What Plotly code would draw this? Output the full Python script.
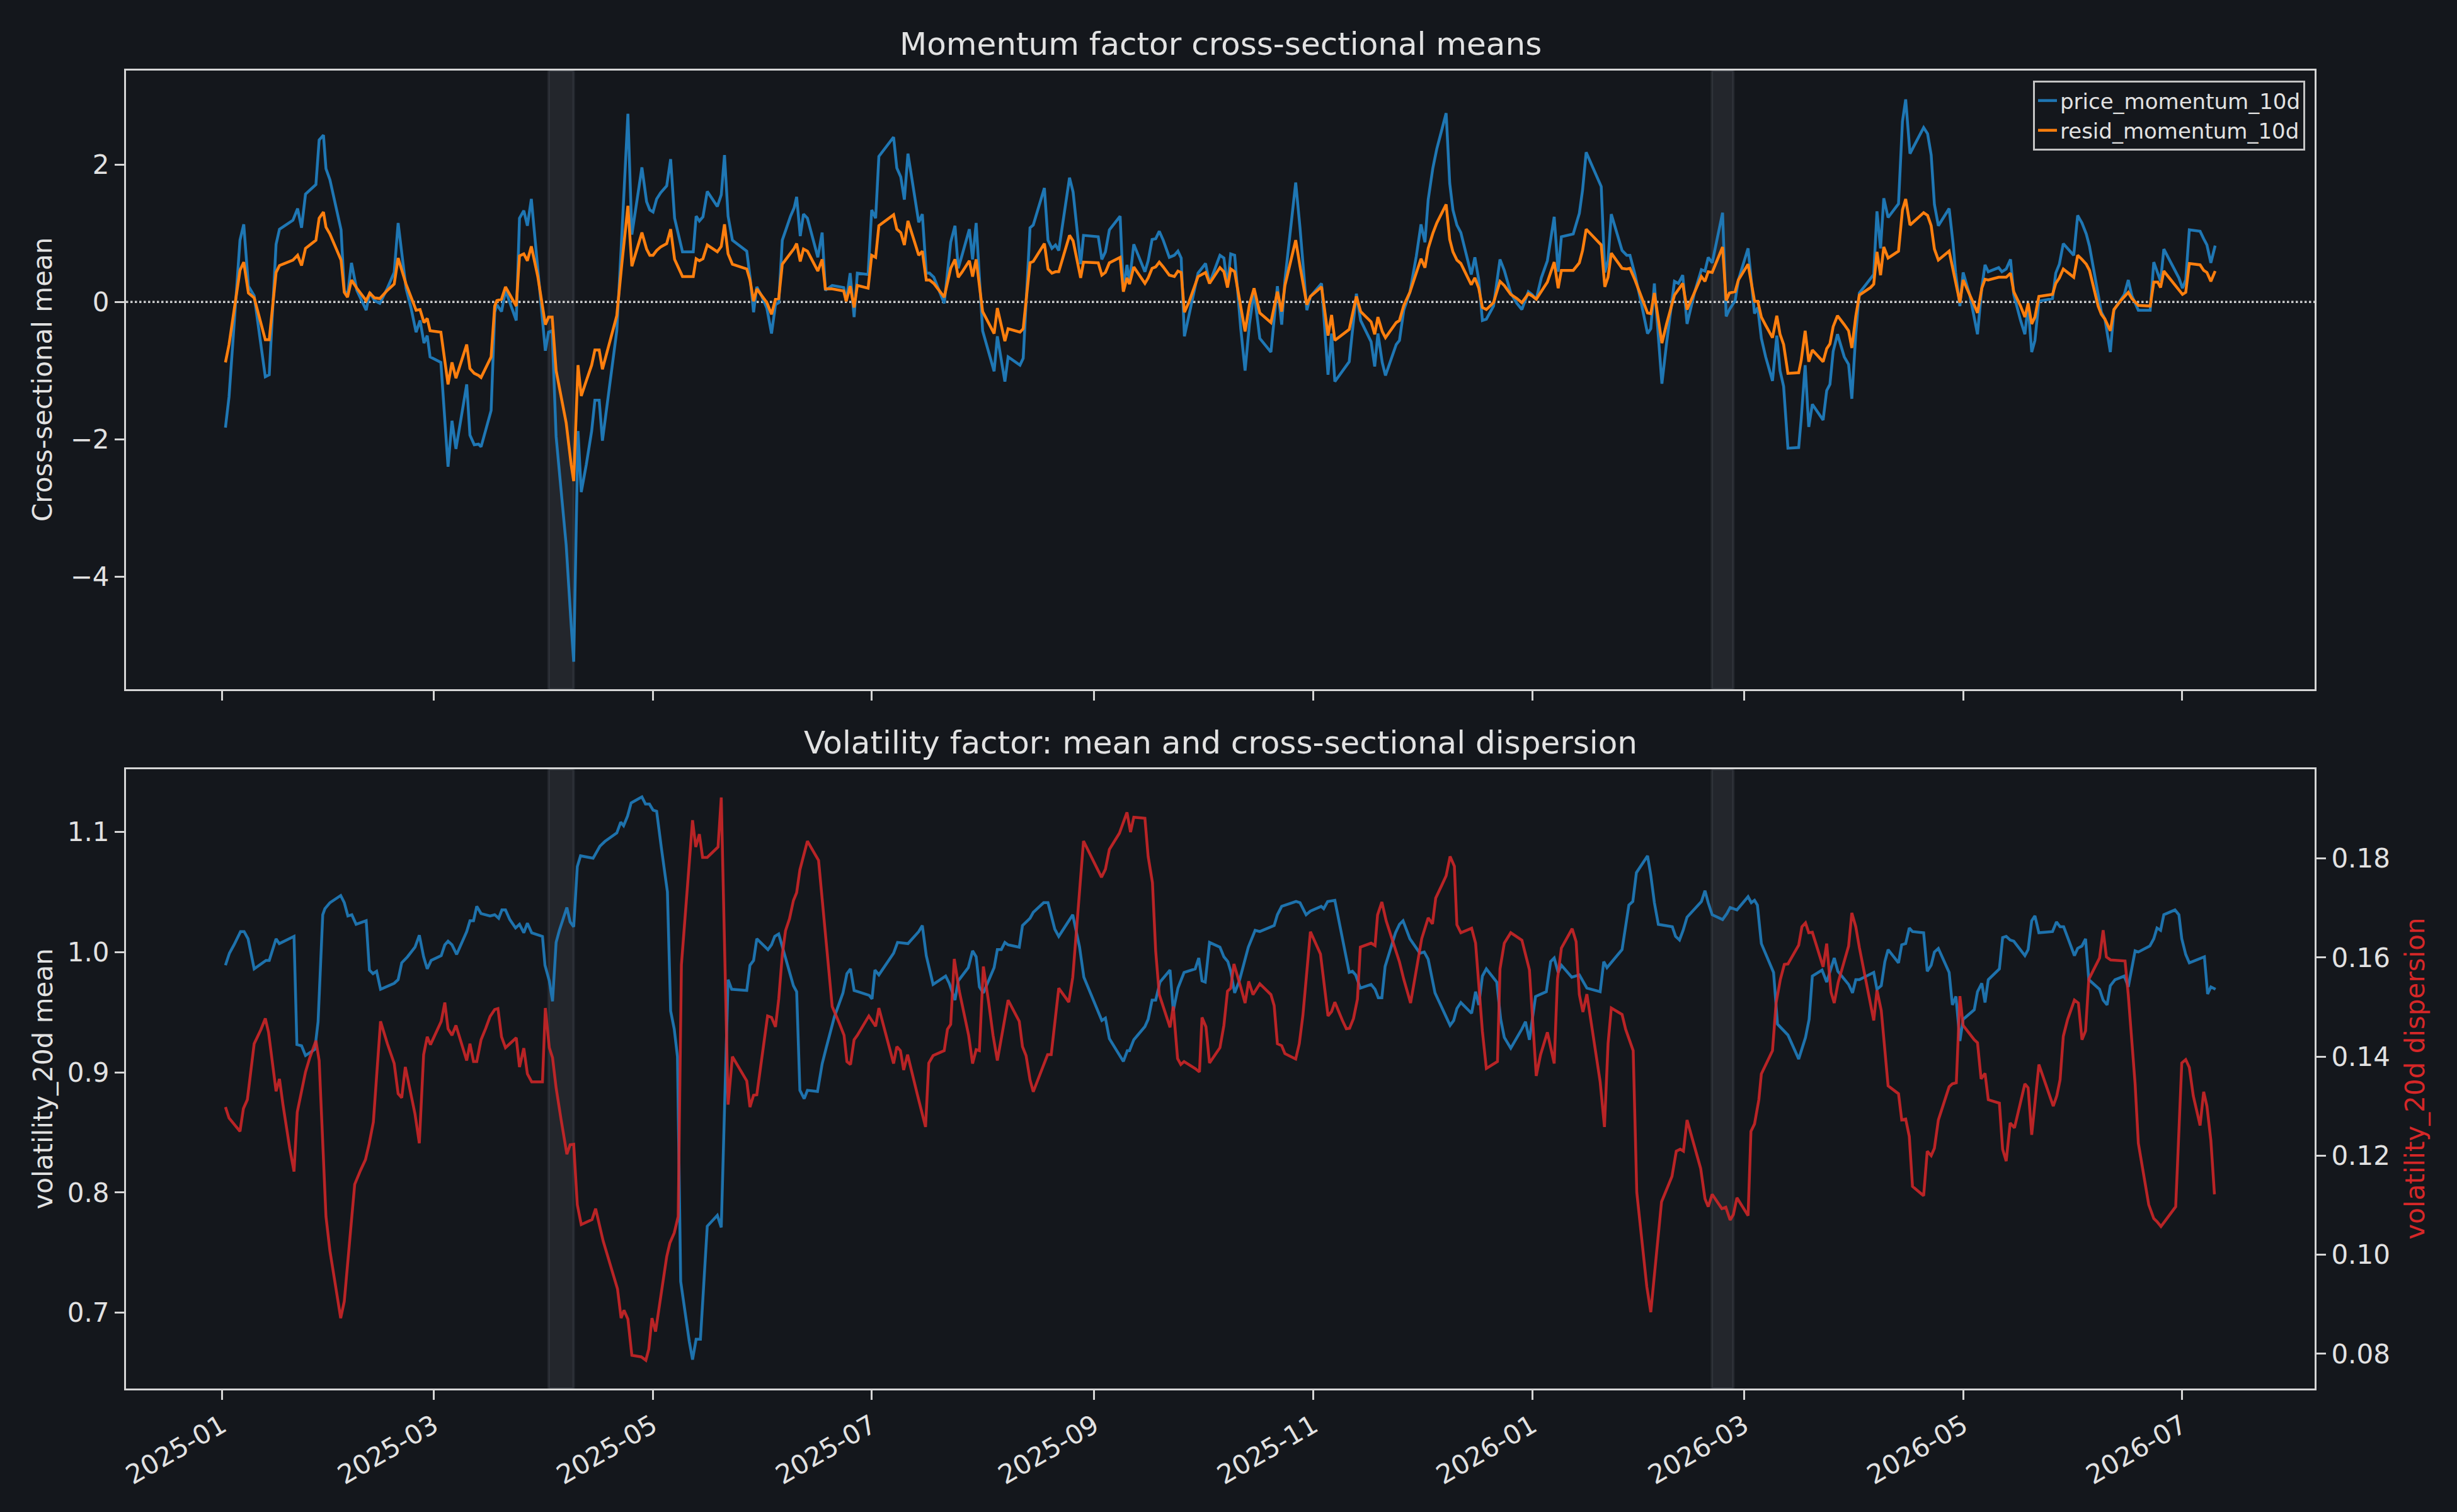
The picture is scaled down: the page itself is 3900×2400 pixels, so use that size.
import pandas as pd
import plotly.graph_objects as go

BASE = pd.Timestamp("2025-01-01")

# ---------------- Momentum panel (day offsets from 2025-01-01) ----------------
mom_days = [
    1.0, 2.0, 5.05, 6.1, 7.4, 9.0, 12.1, 13.2, 15.1, 16.05,
    19.8, 21.1, 22.2, 23.3, 26.2, 27.1, 28.3, 29.0, 30.1, 33.2,
    34.1, 35.0, 36.1, 37.6, 40.2, 41.2, 42.5, 44.0, 46.1, 48.0,
    49.1, 51.3, 52.7, 54.1, 55.2, 56.3, 57.2, 58.0, 61.0, 63.0,
    64.1, 65.2, 68.2, 69.1, 70.3, 71.5, 72.2, 75.0, 76.0, 76.6,
    77.9, 79.0, 82.0, 82.9, 84.1, 85.1, 86.2, 88.0, 90.1, 91.0,
    92.0, 93.1, 94.5, 95.9, 97.3, 98.0, 99.2, 100.1, 101.5, 103.0,
    103.9, 105.1, 106.0, 108.1, 110.0, 111.4, 113.1, 114.2, 115.6, 117.0,
    118.3, 119.2, 120.1, 121.1, 122.2, 123.9, 125.0, 126.1, 128.3, 131.3,
    132.1, 133.0, 134.0, 135.2, 138.0, 139.1, 140.0, 141.0, 142.2, 146.2,
    147.1, 148.1, 149.0, 150.4, 151.8, 153.1, 154.2, 155.1, 156.1, 158.4,
    159.4, 160.1, 161.1, 162.0, 163.1, 165.0, 166.0, 167.2, 168.1, 170.0,
    173.2, 173.9, 175.0, 176.1, 177.0, 180.0, 181.0, 182.1, 183.0, 187.1,
    188.0, 189.1, 190.1, 191.1, 192.7, 194.1, 195.1, 196.2, 197.1, 198.3,
    201.2, 203.0, 204.2, 205.1, 206.1, 208.2, 209.1, 210.1, 211.9, 213.4,
    215.1, 216.0, 218.1, 219.0, 222.3, 223.2, 225.1, 226.0, 229.1, 230.1,
    231.2, 232.2, 233.1, 236.1, 237.1, 239.2, 240.0, 244.1, 245.1, 246.1,
    247.2, 250.2, 251.1, 252.1, 252.8, 254.0, 257.1, 258.0, 259.1, 260.1,
    261.1, 262.2, 263.9, 265.3, 266.3, 267.2, 268.1, 269.3, 271.9, 274.0,
    275.1, 278.0, 279.1, 280.1, 281.0, 282.1, 283.8, 285.0, 286.2, 287.5,
    289.1, 292.2, 294.0, 295.2, 296.1, 299.1, 300.3, 302.2, 303.2, 306.3,
    308.1, 309.1, 310.0, 314.0, 316.0, 317.2, 320.1, 321.1, 322.0, 323.2,
    324.1, 327.1, 328.0, 329.2, 330.9, 332.7, 334.0, 335.1, 336.0, 337.3,
    338.4, 341.0, 342.0, 342.9, 344.0, 345.1, 346.8, 348.0, 349.0, 350.1,
    351.1, 352.2, 354.2, 356.0, 357.2, 359.0, 360.7, 362.1, 363.9, 364.9,
    366.1, 367.5, 369.2, 371.1, 372.2, 373.1, 376.4, 378.1, 379.0, 380.0,
    384.2, 385.2, 386.1, 387.0, 390.0, 391.3, 392.2, 393.6, 395.2, 397.1,
    398.0, 399.0, 401.1, 402.4, 404.6, 405.7, 406.9, 408.1, 410.2, 412.1,
    413.1, 414.0, 415.1, 418.0, 419.0, 419.9, 421.5, 422.4, 425.1, 426.9,
    427.8, 428.8, 430.0, 431.9, 433.1, 434.0, 435.0, 436.2, 439.2, 439.9,
    441.0, 442.0, 443.0, 446.0, 447.0, 447.9, 448.8, 450.0, 451.9, 453.1,
    454.0, 455.1, 456.1, 459.2, 460.1, 461.0, 462.0, 462.9, 464.1, 467.0,
    468.1, 469.0, 470.2, 474.0, 475.1, 476.1, 477.0, 478.1, 481.1, 482.2,
    482.9, 484.1, 485.0, 486.9, 487.8, 489.0, 490.2, 491.1, 492.0, 494.9,
    495.8, 497.0, 498.2, 499.1, 501.0, 502.2, 503.1, 504.1, 505.0, 506.1,
    509.9, 510.8, 511.8, 512.9, 515.8, 516.9, 518.1, 519.3, 520.2, 522.6,
    523.5, 524.5, 526.0, 527.0, 528.9, 529.9, 531.0, 532.0, 533.8, 537.1,
    538.1, 539.2, 540.0, 540.9, 545.1, 546.1, 547.0, 548.0, 551.0, 552.0,
    552.9, 554.0, 555.2,
]
price_momentum_10d = [
    -1.83, -1.38, 0.90, 1.13, 0.23, 0.09, -1.09, -1.06, 0.84, 1.06,
    1.19, 1.36, 1.08, 1.57, 1.71, 2.36, 2.43, 1.94, 1.78, 1.05,
    0.17, 0.09, 0.57, 0.17, -0.12, 0.14, 0.02, -0.02, 0.20, 0.43,
    1.15, 0.20, -0.09, -0.44, -0.27, -0.60, -0.49, -0.80, -0.88, -2.40,
    -1.73, -2.14, -1.20, -1.94, -2.08, -2.07, -2.11, -1.58, -0.15, -0.04,
    -0.14, 0.17, -0.27, 1.22, 1.33, 1.11, 1.50, 0.45, -0.71, -0.44,
    -0.42, -1.96, -2.73, -3.54, -4.71, -5.24, -1.88, -2.77, -2.37, -1.88,
    -1.43, -1.43, -2.02, -1.20, -0.42, 0.96, 2.74, 0.98, 1.49, 1.96,
    1.46, 1.34, 1.31, 1.50, 1.59, 1.69, 2.08, 1.22, 0.73, 0.73,
    1.25, 1.18, 1.24, 1.61, 1.39, 1.56, 2.14, 1.25, 0.90, 0.74,
    0.37, -0.15, 0.22, 0.08, -0.09, -0.46, -0.04, -0.01, 0.90, 1.25,
    1.37, 1.53, 0.96, 1.28, 1.22, 0.84, 0.65, 1.01, 0.17, 0.24,
    0.21, 0.01, 0.42, -0.22, 0.42, 0.40, 1.34, 1.22, 2.12, 2.40,
    1.95, 1.82, 1.49, 2.16, 1.63, 1.16, 1.28, 0.42, 0.42, 0.36,
    -0.02, 0.87, 1.11, 0.49, 0.67, 1.06, 0.62, 1.15, -0.42, -0.68,
    -1.01, -0.50, -1.16, -0.80, -0.92, -0.82, 1.08, 1.12, 1.66, 0.90,
    0.78, 0.83, 0.75, 1.81, 1.60, 0.55, 0.97, 0.95, 0.62, 0.73,
    1.05, 1.25, 0.17, 0.54, 0.29, 0.84, 0.44, 0.60, 0.91, 0.92,
    1.03, 0.90, 0.65, 0.68, 0.74, 0.64, -0.50, -0.21, 0.42, 0.56,
    0.27, 0.68, 0.64, 0.23, 0.70, 0.68, -0.39, -1.00, -0.33, 0.15,
    -0.53, -0.73, 0.23, -0.33, 0.32, 1.74, 1.08, -0.12, 0.08, 0.27,
    -1.06, -0.46, -1.16, -0.87, 0.12, -0.27, -0.58, -0.94, -0.46, -0.88,
    -1.07, -0.62, -0.56, -0.12, 0.14, 0.67, 1.13, 0.87, 1.49, 1.95,
    2.23, 2.75, 1.73, 1.34, 1.12, 1.01, 0.64, 0.40, 0.65, 0.32,
    -0.27, -0.25, -0.06, 0.62, 0.46, 0.13, -0.02, -0.11, 0.15, 0.11,
    0.04, 0.35, 0.60, 1.24, 0.44, 0.95, 0.99, 1.29, 1.63, 2.18,
    1.68, 0.43, 0.61, 1.28, 0.75, 0.68, 0.68, 0.40, 0.02, -0.46,
    -0.39, 0.27, -1.19, -0.60, 0.30, 0.27, 0.39, -0.32, 0.14, 0.47,
    0.45, 0.65, 0.57, 1.30, -0.21, -0.11, 0.02, 0.32, 0.78, -0.17,
    -0.08, -0.53, -0.80, -1.15, -0.49, -1.00, -1.23, -2.13, -2.12, -1.70,
    -0.92, -1.82, -1.49, -1.72, -1.29, -1.20, -0.72, -0.47, -0.80, -0.91,
    -1.41, -0.46, 0.13, 0.33, 0.40, 1.32, 0.78, 1.51, 1.23, 1.43,
    2.63, 2.95, 2.16, 2.54, 2.45, 2.14, 1.42, 1.11, 1.36, 0.85,
    0.43, -0.06, 0.43, 0.09, -0.15, -0.47, 0.21, 0.54, 0.44, 0.50,
    0.44, 0.48, 0.62, 0.11, -0.27, -0.47, -0.04, -0.73, -0.56, 0.01,
    0.05, 0.42, 0.55, 0.85, 0.68, 1.26, 1.15, 0.99, 0.81, 0.11,
    -0.15, -0.25, -0.73, -0.12, 0.02, 0.11, 0.32, 0.09, -0.12, -0.12,
    0.58, 0.40, 0.30, 0.77, 0.35, 0.20, 0.32, 1.05, 1.03, 0.92,
    0.83, 0.57, 0.82,
]
resid_momentum_10d = [
    -0.88, -0.62, 0.46, 0.58, 0.13, 0.06, -0.55, -0.55, 0.43, 0.53,
    0.61, 0.68, 0.53, 0.78, 0.90, 1.22, 1.31, 1.09, 0.99, 0.61,
    0.14, 0.07, 0.32, 0.20, 0.02, 0.13, 0.06, 0.05, 0.17, 0.26,
    0.64, 0.26, 0.07, -0.12, -0.11, -0.30, -0.24, -0.42, -0.44, -1.20,
    -0.88, -1.11, -0.62, -0.97, -1.04, -1.07, -1.10, -0.80, -0.06, 0.02,
    0.04, 0.22, -0.06, 0.67, 0.70, 0.60, 0.81, 0.37, -0.33, -0.22,
    -0.22, -1.00, -1.38, -1.76, -2.37, -2.61, -0.92, -1.37, -1.15, -0.92,
    -0.70, -0.70, -0.98, -0.56, -0.20, 0.55, 1.40, 0.52, 0.75, 1.01,
    0.77, 0.68, 0.68, 0.75, 0.80, 0.85, 1.06, 0.62, 0.37, 0.37,
    0.63, 0.60, 0.63, 0.83, 0.73, 0.81, 1.13, 0.70, 0.55, 0.48,
    0.32, 0.01, 0.19, 0.09, -0.01, -0.18, 0.04, 0.05, 0.55, 0.71,
    0.78, 0.85, 0.59, 0.77, 0.74, 0.55, 0.45, 0.62, 0.19, 0.19,
    0.16, 0.01, 0.23, -0.08, 0.24, 0.20, 0.68, 0.65, 1.11, 1.27,
    1.06, 1.01, 0.83, 1.18, 0.90, 0.68, 0.74, 0.32, 0.32, 0.27,
    0.07, 0.49, 0.62, 0.36, 0.43, 0.60, 0.37, 0.62, -0.14, -0.29,
    -0.46, -0.09, -0.57, -0.39, -0.44, -0.39, 0.57, 0.59, 0.85, 0.48,
    0.42, 0.44, 0.44, 0.97, 0.89, 0.35, 0.58, 0.57, 0.39, 0.43,
    0.57, 0.65, 0.15, 0.35, 0.26, 0.51, 0.27, 0.35, 0.49, 0.51,
    0.58, 0.51, 0.39, 0.37, 0.45, 0.43, -0.15, -0.01, 0.37, 0.43,
    0.27, 0.50, 0.44, 0.21, 0.48, 0.44, -0.06, -0.43, -0.04, 0.20,
    -0.16, -0.30, 0.15, -0.14, 0.24, 0.90, 0.52, -0.04, 0.08, 0.22,
    -0.49, -0.19, -0.56, -0.40, 0.08, -0.14, -0.29, -0.47, -0.22, -0.43,
    -0.52, -0.30, -0.27, -0.05, 0.14, 0.42, 0.63, 0.50, 0.78, 1.00,
    1.15, 1.42, 0.91, 0.73, 0.61, 0.56, 0.39, 0.25, 0.35, 0.20,
    -0.08, -0.11, -0.01, 0.30, 0.24, 0.11, 0.05, -0.01, 0.12, 0.09,
    0.04, 0.15, 0.29, 0.58, 0.20, 0.46, 0.46, 0.57, 0.75, 1.06,
    0.83, 0.22, 0.36, 0.71, 0.49, 0.48, 0.49, 0.32, 0.09, -0.16,
    -0.17, 0.13, -0.60, -0.32, 0.10, 0.18, 0.27, -0.11, 0.13, 0.37,
    0.30, 0.44, 0.43, 0.80, 0.02, 0.13, 0.15, 0.32, 0.55, 0.01,
    0.01, -0.22, -0.34, -0.52, -0.20, -0.47, -0.62, -1.04, -1.03, -0.85,
    -0.42, -0.87, -0.70, -0.87, -0.68, -0.61, -0.36, -0.20, -0.33, -0.42,
    -0.67, -0.21, 0.10, 0.21, 0.26, 0.73, 0.39, 0.80, 0.64, 0.74,
    1.34, 1.50, 1.12, 1.30, 1.26, 1.11, 0.77, 0.61, 0.74, 0.46,
    0.29, -0.01, 0.32, 0.11, -0.01, -0.16, 0.20, 0.33, 0.32, 0.36,
    0.36, 0.36, 0.42, 0.15, -0.06, -0.22, -0.02, -0.32, -0.22, 0.08,
    0.11, 0.27, 0.35, 0.48, 0.36, 0.68, 0.62, 0.55, 0.46, -0.06,
    -0.18, -0.25, -0.42, -0.11, 0.02, 0.08, 0.14, 0.05, -0.05, -0.06,
    0.29, 0.29, 0.21, 0.45, 0.17, 0.11, 0.14, 0.56, 0.54, 0.46,
    0.43, 0.30, 0.45,
]

# ---------------- Volatility panel ----------------
volmean_days = [
    1.0, 2.1, 3.4, 5.2, 6.2, 7.3, 9.0, 12.3, 13.2, 15.1,
    16.0, 20.1, 20.9, 22.2, 23.3, 25.9, 26.8, 28.1, 28.7, 30.1,
    33.1, 34.1, 35.1, 36.2, 37.4, 40.2, 41.1, 42.1, 43.1, 44.2,
    48.0, 49.1, 50.1, 51.7, 53.8, 55.0, 56.2, 57.2, 58.3, 61.1,
    62.1, 63.0, 64.1, 65.4, 68.2, 69.1, 70.1, 71.0, 72.2, 74.7,
    76.0, 77.1, 78.0, 79.0, 80.2, 81.8, 82.9, 84.1, 85.1, 86.3,
    89.3, 90.0, 91.2, 92.1, 93.1, 94.0, 96.1, 97.0, 98.0, 99.0,
    99.9, 103.4, 105.3, 106.7, 110.0, 111.1, 111.9, 113.0, 114.0, 117.0,
    118.0, 119.1, 120.1, 121.1, 122.4, 124.1, 125.0, 126.0, 126.9, 127.8,
    130.2, 131.1, 132.1, 133.3, 135.2, 138.0, 139.1, 140.0, 141.0, 142.0,
    146.2, 147.1, 148.1, 149.0, 152.1, 153.1, 154.0, 155.1, 159.2, 160.1,
    161.0, 162.2, 163.1, 165.9, 167.2, 168.3, 170.6, 173.0, 174.1, 175.1,
    176.1, 177.2, 180.3, 181.1, 181.9, 183.0, 187.1, 188.2, 191.1, 194.1,
    195.1, 196.2, 198.1, 201.6, 202.6, 204.2, 205.1, 207.9, 209.1, 210.1,
    211.0, 212.1, 215.1, 216.0, 217.1, 218.1, 219.0, 222.1, 223.0, 225.1,
    226.0, 228.9, 230.1, 232.0, 233.1, 237.0, 238.9, 240.1, 245.1, 246.1,
    247.2, 251.1, 252.2, 252.8, 254.0, 257.1, 258.0, 259.1, 260.1, 261.3,
    264.1, 265.0, 266.3, 268.0, 271.1, 272.1, 273.0, 273.9, 275.1, 278.0,
    279.1, 280.2, 281.0, 282.1, 283.4, 285.9, 287.8, 289.1, 293.1, 294.0,
    295.2, 299.2, 300.3, 302.0, 303.2, 306.2, 306.9, 308.0, 310.0, 314.0,
    314.9, 315.8, 317.1, 320.1, 321.2, 322.1, 323.1, 324.0, 325.2, 326.9,
    328.0, 329.0, 330.9, 333.7, 334.9, 336.0, 337.9, 341.0, 342.1, 343.1,
    344.0, 345.1, 348.1, 349.2, 350.1, 351.1, 352.2, 355.1, 356.2, 357.2,
    359.0, 362.1, 363.1, 364.2, 365.9, 368.9, 370.1, 371.1, 372.2, 373.1,
    376.0, 378.1, 380.2, 383.9, 384.9, 385.8, 387.2, 390.0, 391.9, 393.0,
    394.0, 397.1, 398.0, 399.0, 400.1, 404.0, 404.9, 406.0, 407.0, 408.1,
    412.1, 413.1, 414.0, 415.1, 418.0, 419.2, 420.1, 422.0, 425.1, 426.0,
    426.9, 427.7, 428.8, 430.0, 432.2, 433.3, 436.2, 439.2, 440.2, 441.1,
    442.1, 443.0, 445.7, 447.0, 449.1, 450.1, 453.1, 454.2, 455.1, 456.1,
    460.1, 461.0, 462.2, 463.2, 464.1, 467.0, 467.9, 469.0, 470.0, 470.9,
    474.0, 475.0, 476.1, 477.0, 478.1, 481.1, 482.0, 483.0, 484.1, 485.0,
    488.1, 489.0, 490.2, 491.1, 492.0, 495.1, 496.0, 497.0, 498.1, 499.1,
    502.2, 503.1, 504.1, 505.0, 506.1, 509.9, 511.0, 512.0, 513.0, 516.0,
    516.9, 518.1, 519.1, 520.0, 523.0, 524.0, 525.1, 526.0, 527.3, 529.9,
    531.0, 532.9, 533.8, 537.0, 538.1, 539.0, 540.0, 540.9, 544.0, 545.1,
    545.9, 547.0, 548.0, 552.2, 553.1, 554.0, 555.3,
]
volatility_20d_mean = [
    0.989, 0.999, 1.006, 1.017, 1.017, 1.011, 0.986, 0.993, 0.993, 1.011,
    1.007, 1.013, 0.923, 0.922, 0.914, 0.919, 0.942, 1.031, 1.036, 1.041,
    1.047, 1.041, 1.030, 1.031, 1.023, 1.026, 0.985, 0.982, 0.984, 0.969,
    0.974, 0.977, 0.991, 0.996, 1.004, 1.014, 0.996, 0.986, 0.993, 0.997,
    1.006, 1.009, 1.006, 0.998, 1.017, 1.026, 1.026, 1.038, 1.032, 1.030,
    1.031, 1.028, 1.035, 1.035, 1.027, 1.020, 1.023, 1.016, 1.024, 1.016,
    1.013, 0.989, 0.976, 0.959, 1.008, 1.018, 1.037, 1.025, 1.021, 1.071,
    1.080, 1.078, 1.088, 1.092, 1.099, 1.108, 1.105, 1.113, 1.124, 1.129,
    1.123, 1.123, 1.118, 1.117, 1.087, 1.050, 0.951, 0.936, 0.913, 0.726,
    0.676, 0.661, 0.678, 0.678, 0.772, 0.781, 0.771, 0.872, 0.977, 0.969,
    0.968, 0.989, 0.993, 1.011, 1.002, 1.006, 1.013, 1.015, 0.972, 0.967,
    0.885, 0.878, 0.885, 0.884, 0.907, 0.920, 0.946, 0.966, 0.982, 0.986,
    0.968, 0.967, 0.964, 0.961, 0.985, 0.981, 0.999, 1.008, 1.007, 1.017,
    1.022, 0.997, 0.973, 0.980, 0.974, 0.960, 0.976, 0.987, 1.001, 0.996,
    0.971, 0.966, 0.987, 1.002, 1.002, 1.008, 1.006, 1.004, 1.022, 1.028,
    1.033, 1.041, 1.041, 1.019, 1.013, 1.031, 1.004, 0.979, 0.943, 0.945,
    0.928, 0.909, 0.918, 0.918, 0.927, 0.938, 0.944, 0.960, 0.960, 0.975,
    0.985, 0.951, 0.970, 0.983, 0.986, 0.995, 0.976, 0.975, 1.008, 1.004,
    0.996, 0.992, 0.984, 0.966, 0.976, 1.004, 1.018, 1.017, 1.022, 1.031,
    1.038, 1.042, 1.041, 1.031, 1.034, 1.038, 1.036, 1.042, 1.043, 0.983,
    0.984, 0.981, 0.970, 0.973, 0.969, 0.962, 0.962, 0.988, 0.999, 1.016,
    1.023, 1.026, 1.011, 0.999, 1.000, 0.994, 0.966, 0.946, 0.939, 0.943,
    0.953, 0.958, 0.949, 0.967, 0.956, 0.980, 0.986, 0.975, 0.944, 0.929,
    0.920, 0.936, 0.942, 0.927, 0.963, 0.967, 0.992, 0.995, 0.983, 0.989,
    0.979, 0.981, 0.970, 0.967, 0.992, 0.987, 0.992, 1.002, 1.039, 1.042,
    1.066, 1.080, 1.064, 1.041, 1.023, 1.021, 1.013, 1.010, 1.018, 1.029,
    1.042, 1.051, 1.041, 1.031, 1.027, 1.032, 1.037, 1.035, 1.046, 1.041,
    1.043, 1.039, 1.007, 0.998, 0.983, 0.940, 0.931, 0.911, 0.921, 0.929,
    0.944, 0.980, 0.985, 0.975, 0.995, 0.984, 0.973, 0.966, 0.977, 0.977,
    0.983, 0.969, 0.972, 0.992, 1.002, 0.991, 1.006, 1.007, 1.020, 1.017,
    1.016, 0.984, 0.989, 1.000, 1.003, 0.983, 0.956, 0.963, 0.926, 0.944,
    0.952, 0.967, 0.974, 0.958, 0.977, 0.986, 1.012, 1.013, 1.010, 1.009,
    0.997, 1.002, 1.026, 1.030, 1.016, 1.017, 1.025, 1.021, 1.021, 0.997,
    1.003, 1.005, 1.011, 0.977, 0.969, 0.960, 0.956, 0.972, 0.977, 0.980,
    0.971, 1.001, 1.000, 1.005, 1.011, 1.020, 1.018, 1.031, 1.035, 1.031,
    1.011, 0.998, 0.991, 0.996, 0.965, 0.971, 0.969,
]
disp_days = [
    1.0, 2.0, 5.05, 6.0, 7.1, 9.0, 10.9, 12.1, 13.0, 14.2,
    15.1, 16.05, 17.0, 18.9, 20.1, 21.0, 22.2, 23.3, 24.5, 26.2,
    27.1, 28.1, 29.0, 30.1, 32.0, 33.1, 34.1, 35.8, 37.0, 38.6,
    40.0, 41.0, 42.2, 43.1, 44.2, 46.1, 48.0, 49.1, 50.1, 51.1,
    52.5, 53.8, 55.0, 56.2, 57.2, 58.1, 61.1, 62.1, 63.0, 64.1,
    65.2, 68.2, 69.1, 70.1, 71.0, 72.2, 73.5, 74.7, 76.0, 76.9,
    77.9, 79.0, 82.0, 82.9, 84.1, 85.1, 86.3, 89.3, 90.1, 91.2,
    92.1, 93.1, 94.5, 96.1, 97.0, 98.0, 99.0, 100.1, 103.1, 104.1,
    106.2, 110.2, 111.2, 112.0, 113.1, 114.2, 116.8, 118.1, 118.9, 119.8,
    120.8, 122.2, 123.9, 124.8, 126.0, 127.1, 128.0, 131.1, 132.0, 133.0,
    133.9, 135.2, 138.2, 139.1, 141.0, 142.2, 144.3, 146.2, 147.1, 148.1,
    149.0, 150.4, 152.0, 153.1, 154.2, 155.1, 156.1, 157.0, 158.1, 159.2,
    160.1, 161.0, 163.1, 166.2, 170.0, 172.0, 173.3, 174.1, 175.1, 176.1,
    177.0, 180.2, 181.1, 182.1, 183.0, 187.1, 188.0, 189.0, 189.9, 191.0,
    193.8, 195.1, 196.0, 196.9, 198.1, 201.2, 202.1, 203.0, 204.0, 205.4,
    208.0, 209.1, 210.1, 211.0, 212.1, 213.6, 214.8, 216.0, 219.0, 222.1,
    223.0, 224.0, 225.1, 226.0, 230.0, 231.0, 232.0, 233.1, 235.9, 237.0,
    240.0, 245.0, 246.1, 247.2, 250.0, 252.1, 253.1, 254.0, 257.1, 258.0,
    259.2, 260.1, 261.1, 264.1, 265.0, 266.2, 267.1, 268.0, 271.1, 272.3,
    273.0, 274.1, 275.1, 278.0, 279.1, 280.1, 281.0, 281.9, 283.8, 285.0,
    286.0, 287.2, 289.1, 292.2, 293.1, 294.0, 295.2, 296.1, 299.1, 300.1,
    301.1, 303.2, 306.0, 308.1, 309.1, 310.0, 312.1, 313.2, 314.1, 315.2,
    316.3, 317.1, 320.1, 321.2, 321.9, 323.1, 324.3, 326.9, 328.0, 329.2,
    331.1, 334.2, 336.0, 337.2, 338.1, 339.8, 341.0, 342.1, 343.3, 344.0,
    345.1, 348.1, 349.2, 351.1, 352.2, 355.3, 356.0, 357.2, 359.0, 362.1,
    363.1, 364.2, 366.1, 367.3, 369.2, 371.1, 372.0, 373.1, 376.1, 377.2,
    378.1, 379.1, 380.2, 383.9, 385.1, 386.1, 387.0, 390.0, 391.0, 392.2,
    393.1, 394.1, 396.9, 398.0, 399.2, 401.0, 403.9, 405.1, 406.2, 407.1,
    408.1, 411.9, 413.1, 414.0, 415.1, 417.8, 418.9, 420.1, 421.0, 422.0,
    425.1, 425.9, 426.9, 428.1, 428.8, 430.0, 431.9, 432.9, 434.1, 435.2,
    436.2, 439.2, 440.1, 441.1, 442.0, 443.0, 446.0, 447.0, 448.2, 449.1,
    450.2, 453.1, 454.0, 455.1, 456.1, 460.1, 461.0, 462.2, 464.1, 467.0,
    467.9, 469.0, 470.0, 470.9, 474.0, 475.0, 476.1, 477.0, 478.1, 481.1,
    482.0, 483.1, 484.1, 485.0, 488.1, 489.0, 490.0, 491.1, 492.0, 495.1,
    496.0, 497.0, 498.1, 499.3, 502.2, 503.1, 504.1, 506.1, 510.1, 511.1,
    512.0, 512.9, 514.1, 516.0, 517.1, 518.1, 519.1, 520.0, 523.0, 524.0,
    524.9, 526.1, 530.1, 531.0, 532.9, 533.8, 535.2, 536.7, 538.1, 539.0,
    540.1, 544.2, 544.9, 545.9, 547.0, 548.0, 549.1, 551.0, 552.0, 552.9,
    554.0, 555.0,
]
volatility_20d_dispersion = [
    0.1298, 0.1276, 0.1249, 0.1295, 0.1313, 0.1426, 0.1455, 0.1477, 0.1449, 0.1386,
    0.1330, 0.1355, 0.1304, 0.1215, 0.1168, 0.1288, 0.1333, 0.1369, 0.1398, 0.1432,
    0.1392, 0.1215, 0.1077, 0.1008, 0.0923, 0.0872, 0.0906, 0.1040, 0.1142, 0.1170,
    0.1192, 0.1223, 0.1268, 0.1360, 0.1471, 0.1426, 0.1386, 0.1325, 0.1317, 0.1379,
    0.1329, 0.1284, 0.1225, 0.1404, 0.1440, 0.1424, 0.1471, 0.1509, 0.1456, 0.1443,
    0.1463, 0.1392, 0.1426, 0.1390, 0.1390, 0.1434, 0.1457, 0.1481, 0.1495, 0.1497,
    0.1440, 0.1418, 0.1438, 0.1379, 0.1417, 0.1365, 0.1349, 0.1349, 0.1498, 0.1418,
    0.1398, 0.1337, 0.1272, 0.1203, 0.1222, 0.1223, 0.1101, 0.1061, 0.1071, 0.1093,
    0.1028, 0.0931, 0.0872, 0.0888, 0.0870, 0.0797, 0.0794, 0.0787, 0.0809, 0.0872,
    0.0845, 0.0914, 0.0996, 0.1024, 0.1044, 0.1077, 0.1585, 0.1877, 0.1823, 0.1849,
    0.1802, 0.1802, 0.1823, 0.1923, 0.1303, 0.1400, 0.1373, 0.1351, 0.1298, 0.1322,
    0.1323, 0.1398, 0.1482, 0.1479, 0.1460, 0.1516, 0.1605, 0.1654, 0.1678, 0.1715,
    0.1731, 0.1777, 0.1835, 0.1796, 0.1501, 0.1467, 0.1443, 0.1390, 0.1384, 0.1434,
    0.1443, 0.1482, 0.1471, 0.1461, 0.1498, 0.1386, 0.1420, 0.1412, 0.1373, 0.1404,
    0.1321, 0.1280, 0.1258, 0.1387, 0.1402, 0.1412, 0.1455, 0.1465, 0.1597, 0.1532,
    0.1443, 0.1386, 0.1414, 0.1412, 0.1582, 0.1508, 0.1443, 0.1392, 0.1514, 0.1471,
    0.1420, 0.1402, 0.1353, 0.1329, 0.1404, 0.1404, 0.1467, 0.1538, 0.1510, 0.1560,
    0.1835, 0.1762, 0.1778, 0.1818, 0.1851, 0.1893, 0.1853, 0.1883, 0.1881, 0.1804,
    0.1751, 0.1613, 0.1525, 0.1459, 0.1501, 0.1396, 0.1384, 0.1390, 0.1376, 0.1369,
    0.1479, 0.1460, 0.1387, 0.1418, 0.1463, 0.1532, 0.1538, 0.1587, 0.1540, 0.1508,
    0.1552, 0.1525, 0.1547, 0.1525, 0.1503, 0.1426, 0.1422, 0.1406, 0.1395, 0.1426,
    0.1483, 0.1652, 0.1607, 0.1482, 0.1491, 0.1510, 0.1473, 0.1456, 0.1457, 0.1477,
    0.1516, 0.1621, 0.1629, 0.1624, 0.1686, 0.1712, 0.1674, 0.1613, 0.1591, 0.1556,
    0.1508, 0.1638, 0.1680, 0.1668, 0.1720, 0.1746, 0.1765, 0.1804, 0.1784, 0.1666,
    0.1650, 0.1659, 0.1629, 0.1451, 0.1376, 0.1390, 0.1577, 0.1629, 0.1650, 0.1635,
    0.1605, 0.1575, 0.1361, 0.1404, 0.1449, 0.1386, 0.1556, 0.1619, 0.1658, 0.1632,
    0.1525, 0.1490, 0.1526, 0.1349, 0.1258, 0.1426, 0.1498, 0.1485, 0.1455, 0.1429,
    0.1412, 0.1126, 0.0935, 0.0884, 0.0979, 0.1107, 0.1158, 0.1209, 0.1213, 0.1209,
    0.1272, 0.1174, 0.1113, 0.1097, 0.1122, 0.1093, 0.1096, 0.1070, 0.1081, 0.1115,
    0.1079, 0.1249, 0.1264, 0.1313, 0.1365, 0.1384, 0.1412, 0.1508, 0.1556, 0.1586,
    0.1587, 0.1625, 0.1662, 0.1670, 0.1650, 0.1651, 0.1581, 0.1628, 0.1530, 0.1508,
    0.1550, 0.1623, 0.1690, 0.1662, 0.1620, 0.1473, 0.1534, 0.1493, 0.1341, 0.1325,
    0.1272, 0.1274, 0.1239, 0.1138, 0.1119, 0.1209, 0.1200, 0.1215, 0.1272, 0.1339,
    0.1345, 0.1347, 0.1522, 0.1463, 0.1434, 0.1428, 0.1355, 0.1366, 0.1313, 0.1306,
    0.1213, 0.1189, 0.1266, 0.1256, 0.1345, 0.1337, 0.1242, 0.1384, 0.1300, 0.1321,
    0.1353, 0.1441, 0.1475, 0.1514, 0.1508, 0.1434, 0.1452, 0.1556, 0.1599, 0.1655,
    0.1601, 0.1595, 0.1593, 0.1524, 0.1345, 0.1225, 0.1166, 0.1101, 0.1073, 0.1067,
    0.1057, 0.1097, 0.1215, 0.1387, 0.1394, 0.1378, 0.1321, 0.1261, 0.1329, 0.1300,
    0.1231, 0.1122,
]

event_windows = [("2025-04-02", "2025-04-09"), ("2026-02-20", "2026-02-26")]

assert len(mom_days) == len(price_momentum_10d) == len(resid_momentum_10d)
assert len(volmean_days) == len(volatility_20d_mean)
assert len(disp_days) == len(volatility_20d_dispersion)


def to_dates(days):
    return [BASE + pd.Timedelta(days=d) for d in days]


BG = "#14171c"
TXT = "#e2e2e2"
SPINE = "#d6d6d6"
FONT = "DejaVu Sans"
W, H = 3900, 2400

XD = [200 / W, 3674 / W]
Y_TOP = [1 - 1094 / H, 1 - 112 / H]
Y_BOT = [1 - 2204 / H, 1 - 1221 / H]
x_range = [BASE + pd.Timedelta(days=-26.7), BASE + pd.Timedelta(days=582.9)]

fig = go.Figure()
fig.add_trace(go.Scatter(x=to_dates(mom_days), y=price_momentum_10d, mode="lines",
                         name="price_momentum_10d", line=dict(color="#1f77b4", width=4.5),
                         xaxis="x", yaxis="y"))
fig.add_trace(go.Scatter(x=to_dates(mom_days), y=resid_momentum_10d, mode="lines",
                         name="resid_momentum_10d", line=dict(color="#ff7f0e", width=4.5),
                         xaxis="x", yaxis="y"))
fig.add_trace(go.Scatter(x=to_dates(volmean_days), y=volatility_20d_mean, mode="lines",
                         name="volatility_20d mean", line=dict(color="#1f77b4", width=4.5),
                         opacity=0.95, showlegend=False, xaxis="x2", yaxis="y2"))
fig.add_trace(go.Scatter(x=to_dates(disp_days), y=volatility_20d_dispersion, mode="lines",
                         name="volatility_20d dispersion", line=dict(color="#d62728", width=4.5),
                         opacity=0.85, showlegend=False, xaxis="x2", yaxis="y3"))

shapes = []
for a, b in event_windows:
    for xr, yr in (("x", "y domain"), ("x2", "y2 domain")):
        shapes.append(dict(type="rect", xref=xr, yref=yr, x0=a, x1=b, y0=0, y1=1,
                           fillcolor="rgba(190,195,210,0.09)",
                           line=dict(color="rgba(190,195,210,0.09)", width=4), layer="below"))
shapes.append(dict(type="line", xref="x domain", yref="y", x0=0, x1=1, y0=0, y1=0,
                   line=dict(color="rgba(235,235,235,0.85)", width=3.5, dash="dot"), layer="below"))

ax = dict(showline=True, linecolor=SPINE, linewidth=3, ticks="outside", ticklen=15,
          tickwidth=3, tickcolor=SPINE, showgrid=False, zeroline=False, automargin=False,
          tickfont=dict(size=42, color=TXT, family=FONT))

fig.update_layout(
    width=W, height=H, autosize=False,
    margin=dict(l=0, r=0, t=0, b=0, pad=0),
    paper_bgcolor=BG, plot_bgcolor=BG,
    font=dict(family=FONT, color=TXT, size=42),
    shapes=shapes,
    showlegend=True,
    legend=dict(x=3659 / W, xanchor="right", y=1 - 128 / H, yanchor="top",
                bgcolor=BG, bordercolor="#c4c4c4", borderwidth=3,
                font=dict(size=34, color=TXT, family=FONT)),
    xaxis=dict(domain=XD, anchor="y", type="date", range=x_range, tick0="2025-01-01",
               dtick="M2", showticklabels=False, mirror=True, **ax),
    xaxis2=dict(domain=XD, anchor="y2", type="date", range=x_range, matches="x",
                tick0="2025-01-01", dtick="M2", tickformat="%Y-%m", tickangle=-30,
                mirror=True, **ax),
    yaxis=dict(domain=Y_TOP, anchor="x", range=[-5.64, 3.37], tick0=0, dtick=2,
               mirror=True, **ax),
    yaxis2=dict(domain=Y_BOT, anchor="x2", range=[0.637, 1.152], tick0=0.7, dtick=0.1,
                tickformat=".1f", **ax),
    yaxis3=dict(overlaying="y2", side="right", anchor="x2", range=[0.073, 0.198],
                tick0=0.08, dtick=0.02, tickformat=".2f", **ax),
    annotations=[
        dict(text="Momentum factor cross-sectional means", xref="paper", yref="paper",
             x=(XD[0] + XD[1]) / 2, y=1 - 70 / H, xanchor="center", yanchor="middle",
             showarrow=False, font=dict(size=50, color=TXT, family=FONT)),
        dict(text="Volatility factor: mean and cross-sectional dispersion", xref="paper",
             yref="paper", x=(XD[0] + XD[1]) / 2, y=1 - 1179 / H, xanchor="center",
             yanchor="middle", showarrow=False, font=dict(size=50, color=TXT, family=FONT)),
        dict(text="Cross-sectional mean", xref="paper", yref="paper", x=68 / W,
             y=(Y_TOP[0] + Y_TOP[1]) / 2, textangle=-90, xanchor="center", yanchor="middle",
             showarrow=False, font=dict(size=42, color=TXT, family=FONT)),
        dict(text="volatility_20d mean", xref="paper", yref="paper", x=68 / W,
             y=(Y_BOT[0] + Y_BOT[1]) / 2, textangle=-90, xanchor="center", yanchor="middle",
             showarrow=False, font=dict(size=42, color=TXT, family=FONT)),
        dict(text="volatility_20d dispersion", xref="paper", yref="paper", x=3833 / W,
             y=(Y_BOT[0] + Y_BOT[1]) / 2, textangle=-90, xanchor="center", yanchor="middle",
             showarrow=False, font=dict(size=42, color="#d62728", family=FONT)),
    ],
)

fig.write_html("out.html")
